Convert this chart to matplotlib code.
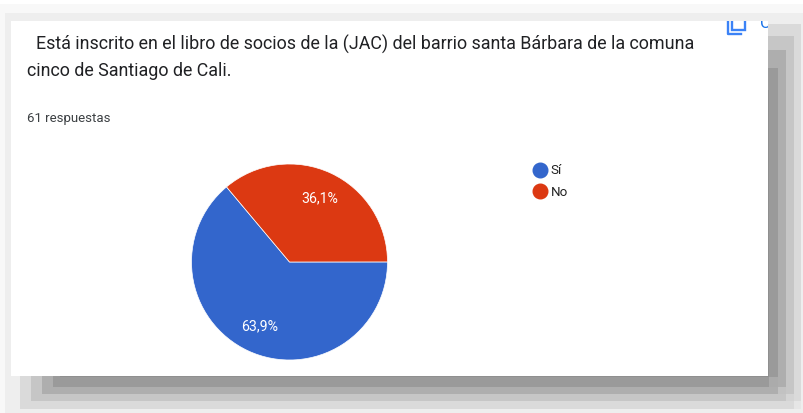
#!/usr/bin/env python3
import matplotlib
matplotlib.use("Agg")
import matplotlib.pyplot as plt
from matplotlib.lines import Line2D
from matplotlib.patches import Rectangle

# Chart data
categories = ["Sí", "No"]
values = [63.9, 36.1]
colors = ["#3366cc", "#dc3912"]
title_lines = ["Está inscrito en el libro de socios de la (JAC) del barrio santa Bárbara de la comuna",
               "cinco de Santiago de Cali."]
responses = "61 respuestas"

W, H = 804, 413
plt.rcParams["font.family"] = ["Roboto", "DejaVu Sans"]

fig = plt.figure(figsize=(W / 100, H / 100), dpi=100, facecolor="white")
ax = fig.add_axes([0, 0, 1, 1])


# everything is placed in picture pixels, y measured from the top
def flip(y):
    return H - y


def block(x0, y0, x1, y1, color, z=0.1):
    ax.add_patch(Rectangle((x0, flip(y1)), x1 - x0, y1 - y0, facecolor=color, edgecolor="none", zorder=z))


# Pie
wedges, _, pct_texts = ax.pie(values, colors=colors, startangle=130, counterclock=True,
                              center=(289.5, flip(262)), radius=98, pctdistance=0.72,
                              autopct=lambda p: f"{p:.1f}%".replace(".", ","),
                              wedgeprops={"edgecolor": "white", "linewidth": 0.5},
                              textprops={"color": "white", "fontsize": 10.2})
ax.set_xlim(0, W)
ax.set_ylim(0, H)
ax.set_aspect("auto")
ax.axis("off")

# Blocky shadow behind the card
block(0, 4, 804, 413, "#f8f8f8", 0.1)
block(5, 13, 804, 413, "#eeeeee", 0.11)
block(20, 24, 801, 409, "#dadada", 0.12)
block(31, 36, 794, 401, "#c6c6c6", 0.13)
block(42, 50, 786, 394, "#aeaeae", 0.14)
block(53, 68, 778, 387, "#9a9a9a", 0.15)
block(60, 90, 769, 377, "#8f8f8f", 0.16)

# the shadow corner at the bottom right fades out step by step
block(769, 377, 778, 387, "#ababab", 0.2)
block(778, 387, 786, 394, "#c2c2c2", 0.2)
block(786, 394, 794, 401, "#d4d4d4", 0.2)
block(794, 401, 801, 409, "#e6e6e6", 0.2)

# Card
card = Rectangle((11, flip(376)), 757, 355, facecolor="white", edgecolor="none", zorder=0.5)
ax.add_patch(card)

# Copy icon and the cut off button label at the top of the card
icon_back = Line2D([728, 728, 741], [flip(18), flip(34), flip(34)], color="#3b82f6", lw=1.7, zorder=2)
icon_front = Rectangle((732, flip(30)), 13, 14, facecolor="none", edgecolor="#3b82f6", lw=1.7, zorder=2)
ax.add_line(icon_back)
ax.add_patch(icon_front)
icon_back.set_clip_path(card)
icon_front.set_clip_path(card)
cut_label = ax.text(760, flip(28.5), "C", color="#1a73e8", fontsize=12, ha="left", va="baseline", zorder=2)
cut_label.set_clip_on(True)
cut_label.set_clip_path(card)

# Title and response count
ax.text(36, flip(50), title_lines[0], color="#202124", fontsize=12.9, ha="left", va="baseline", zorder=3)
ax.text(27, flip(76), title_lines[1], color="#202124", fontsize=12.9, ha="left", va="baseline", zorder=3)
ax.text(27, flip(122), responses, color="#3c4043", fontsize=9.5, ha="left", va="baseline", zorder=3)

# Legend
handles = [Line2D([], [], linestyle="none", marker="o", markersize=10.5, color=c, label=n)
           for c, n in zip(colors, categories)]
ax.legend(handles=handles, loc="upper left", bbox_to_anchor=(530, flip(164.5)), bbox_transform=ax.transData,
          frameon=False, fontsize=9.6, labelcolor="#222222", labelspacing=0.62, borderpad=0, borderaxespad=0,
          handletextpad=0.05, handlelength=1.5)

fig.savefig("out.png", dpi=100)
